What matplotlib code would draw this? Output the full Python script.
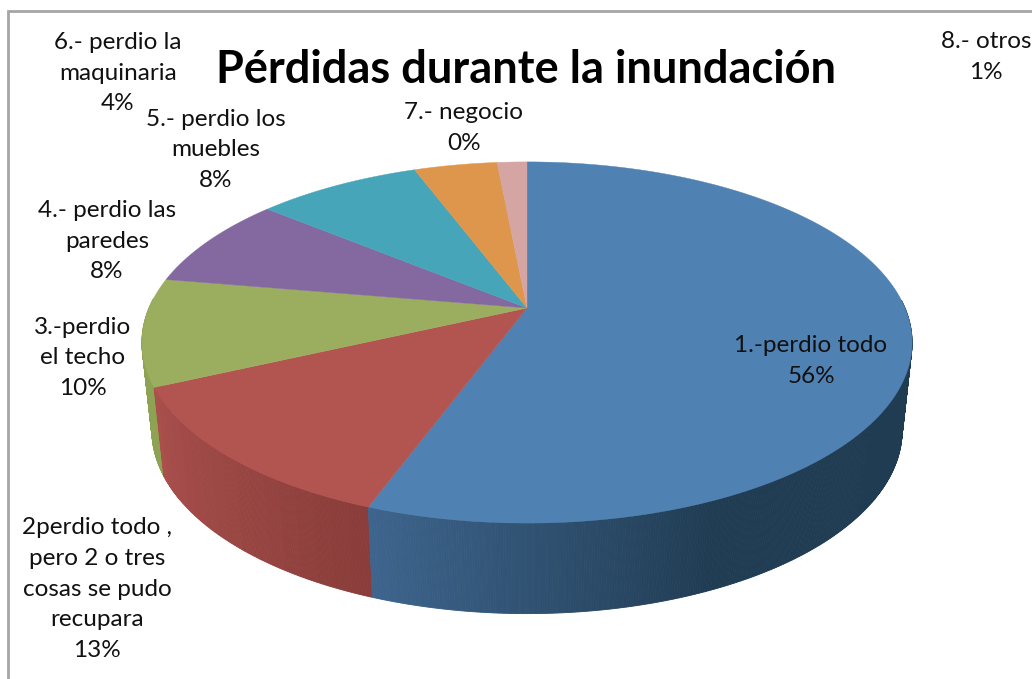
import matplotlib
matplotlib.use("Agg")
import matplotlib.pyplot as plt
import matplotlib.colors as col
import numpy as np

# shares, the printed labels are rounded
shares = [55.6, 12.5, 9.6, 8.3, 8.3, 4.2, 0.0, 1.5]
etiquetas = ["1.-perdio todo", "2perdio todo ,\npero 2 o tres\ncosas se pudo\nrecupara",
             "3.-perdio\nel techo", "4.- perdio las\nparedes", "5.- perdio los\nmuebles",
             "6.- perdio la\nmaquinaria", "7.- negocio", "8.- otros"]
porcentajes = ["56%", "13%", "10%", "8%", "8%", "4%", "0%", "1%"]
titulo = "Pérdidas durante la inundación"

colores = ["#4f81b3", "#b25551", "#9bae5f", "#8468a0", "#47a5b9", "#de954c", "#9a8fb0", "#d4a5a3"]
lado_ini = ["#3e658e", "#8a3d3a", "#8da252", "#6f5689", "#3b8a9b", "#b97a3d", "#80769a", "#b08a88"]
lado_fin = ["#203c53", "#a94f4c", "#8da252", "#6f5689", "#3b8a9b", "#b97a3d", "#80769a", "#b08a88"]

pos_etiquetas = [(811, 361), (97, 589), (83, 358), (107, 241), (216, 150), (118, 73), (464, 128), (986, 57)]


def proyectar(ang):
    # perspective view of the unit circle, ang clockwise from the top
    u = np.sin(ang)
    v = np.cos(ang)
    w = 1 + 0.191 * v
    return 527 + 378 * u / w, 308 - 174 * v / w


def base(x, y):
    return 527 + (x - 527) * 0.974, y + 88 + (y - 342) * 0.014


fig = plt.figure(figsize=(10.32, 6.79), dpi=100)
ax = fig.add_axes([0, 0, 1, 1])
ax.set_xlim(0, 1032)
ax.set_ylim(679, 0)
ax.axis("off")

bordes = np.cumsum([0] + shares) / 100 * 2 * np.pi

# side wall first, back strips before front ones
tiras = []
for i in range(len(shares)):
    a0, a1 = bordes[i], bordes[i + 1]
    if a1 <= a0:
        continue
    n_bandas = max(2, int(shares[i] * 1.4))
    ini = np.array(col.to_rgb(lado_ini[i]))
    fin = np.array(col.to_rgb(lado_fin[i]))
    angs = np.linspace(a0, a1, n_bandas * 8 + 1)
    for j in range(len(angs) - 1):
        t = (j // 8) / max(1, n_bandas - 1)
        if i == 0:
            # blue goes flat dark on the right part of the wall
            t = min(1, (1 - j / (len(angs) - 1)) / 0.22)
            c = col.to_hex(fin + (ini - fin) * (1 - t))
        else:
            c = col.to_hex(ini + (fin - ini) * t)
        if np.cos(angs[j]) < 0.05:
            tiras.append((np.cos(angs[j]), angs[j], angs[j + 1], c))

tiras.sort(key=lambda t: -t[0])
for _, a0, a1, c in tiras:
    x, y = proyectar(np.array([a0, a1]))
    xb, yb = base(x, y)
    ax.fill([x[0], x[1], xb[1], xb[0]], [y[0], y[1], yb[1], yb[0]], color=c, lw=0.6)

# top face
for i in range(len(shares)):
    if bordes[i + 1] <= bordes[i]:
        continue
    angs = np.linspace(bordes[i], bordes[i + 1], 200)
    x, y = proyectar(angs)
    ax.fill(np.r_[527, x], np.r_[308, y], color=colores[i], lw=0.3, zorder=3)

for nombre, pct, (xt, yt) in zip(etiquetas, porcentajes, pos_etiquetas):
    ax.text(xt, yt, nombre + "\n" + pct, ha="center", va="center", family="Lato",
            fontsize=17.5, linespacing=1.57, color="#111111", zorder=5)

ax.text(526, 70, titulo, ha="center", va="center", family="Lato", fontsize=32.5,
        fontweight="bold", color="black", zorder=5)

# outer frame, only top and left fall inside the picture
ax.plot([8, 8, 1040], [690, 11, 11], color="#a6a6a6", lw=2, solid_joinstyle="miter", zorder=6)

plt.savefig("out.png", dpi=100)
